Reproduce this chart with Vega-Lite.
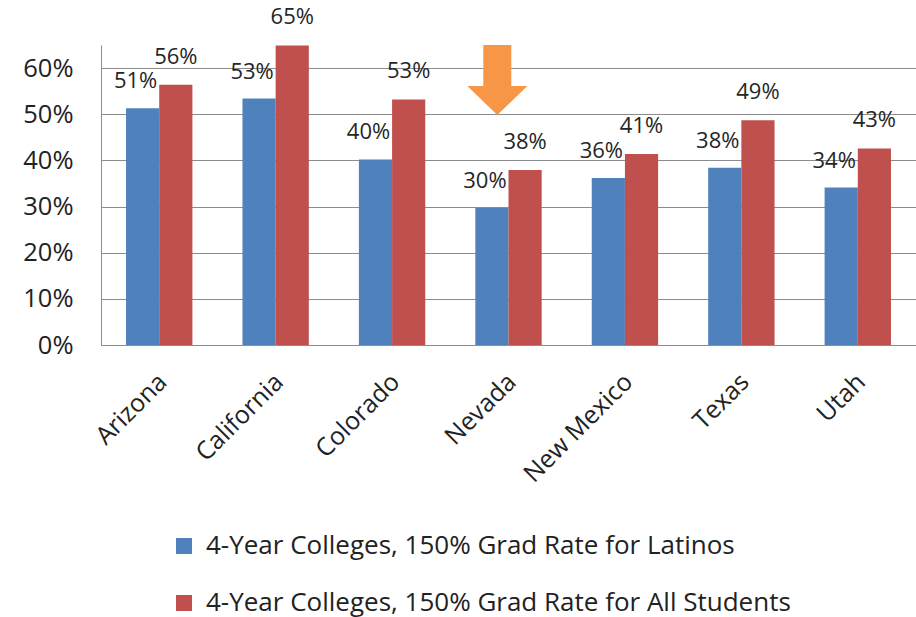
{
  "$schema": "https://vega.github.io/schema/vega-lite/v6.json",
  "width": 815,
  "height": 300,
  "autosize": {"type": "none"},
  "padding": {"left": 101, "top": 45, "right": 0, "bottom": 272},
  "background": "white",
  "config": {"view": {"stroke": null}, "font": "Open Sans"},
  "datasets": {
    "rates": [
      {"state": "Arizona", "series": "4-Year Colleges, 150% Grad Rate for Latinos", "value": 0.513},
      {"state": "Arizona", "series": "4-Year Colleges, 150% Grad Rate for All Students", "value": 0.564},
      {"state": "California", "series": "4-Year Colleges, 150% Grad Rate for Latinos", "value": 0.534},
      {"state": "California", "series": "4-Year Colleges, 150% Grad Rate for All Students", "value": 0.649},
      {"state": "Colorado", "series": "4-Year Colleges, 150% Grad Rate for Latinos", "value": 0.402},
      {"state": "Colorado", "series": "4-Year Colleges, 150% Grad Rate for All Students", "value": 0.532},
      {"state": "Nevada", "series": "4-Year Colleges, 150% Grad Rate for Latinos", "value": 0.297},
      {"state": "Nevada", "series": "4-Year Colleges, 150% Grad Rate for All Students", "value": 0.379},
      {"state": "New Mexico", "series": "4-Year Colleges, 150% Grad Rate for Latinos", "value": 0.362},
      {"state": "New Mexico", "series": "4-Year Colleges, 150% Grad Rate for All Students", "value": 0.414},
      {"state": "Texas", "series": "4-Year Colleges, 150% Grad Rate for Latinos", "value": 0.384},
      {"state": "Texas", "series": "4-Year Colleges, 150% Grad Rate for All Students", "value": 0.487},
      {"state": "Utah", "series": "4-Year Colleges, 150% Grad Rate for Latinos", "value": 0.341},
      {"state": "Utah", "series": "4-Year Colleges, 150% Grad Rate for All Students", "value": 0.426}
    ]
  },
  "layer": [
    {
      "data": {"name": "rates"},
      "mark": {"type": "bar"},
      "encoding": {
        "x": {
          "field": "state", "type": "nominal", "sort": null,
          "scale": {"paddingInner": 0.43, "paddingOuter": 0.215},
          "axis": {
            "title": null, "labelAngle": -45, "labelFontSize": 25, "labelColor": "#222222",
            "ticks": false, "domainColor": "#8c8c8c", "labelPadding": 24, "labelLimit": 300,
            "labelOffset": -5
          }
        },
        "xOffset": {
          "field": "series", "type": "nominal",
          "sort": ["4-Year Colleges, 150% Grad Rate for Latinos", "4-Year Colleges, 150% Grad Rate for All Students"]
        },
        "y": {
          "field": "value", "type": "quantitative",
          "scale": {"domain": [0, 0.65], "nice": false},
          "axis": {
            "title": null, "format": ".0%", "values": [0, 0.1, 0.2, 0.3, 0.4, 0.5, 0.6],
            "labelFontSize": 25.5, "labelColor": "#222222", "ticks": false,
            "domainColor": "#8c8c8c", "gridColor": "#8c8c8c", "gridOpacity": 1, "labelPadding": 28
          }
        },
        "color": {
          "field": "series", "type": "nominal",
          "sort": ["4-Year Colleges, 150% Grad Rate for Latinos", "4-Year Colleges, 150% Grad Rate for All Students"],
          "scale": {"range": ["#4F81BD", "#C0504D"]},
          "legend": {
            "title": null, "orient": "none", "legendX": 70, "legendY": 488,
            "direction": "vertical", "symbolType": "square", "symbolSize": 256,
            "symbolStrokeWidth": 0, "labelFontSize": 26, "labelColor": "#222222",
            "labelLimit": 800, "rowPadding": 31, "labelOffset": 9
          }
        }
      }
    },
    {
      "data": {"name": "rates"},
      "transform": [{"filter": "datum.series == '4-Year Colleges, 150% Grad Rate for Latinos'"}],
      "mark": {"type": "text", "dy": -27, "dx": -7, "baseline": "middle", "fontSize": 22, "color": "#262626"},
      "encoding": {
        "x": {"field": "state", "type": "nominal", "sort": null},
        "xOffset": {
          "field": "series", "type": "nominal",
          "sort": ["4-Year Colleges, 150% Grad Rate for Latinos", "4-Year Colleges, 150% Grad Rate for All Students"]
        },
        "y": {"field": "value", "type": "quantitative"},
        "text": {"field": "value", "type": "quantitative", "format": ".0%"}
      }
    },
    {
      "data": {"name": "rates"},
      "transform": [{"filter": "datum.series == '4-Year Colleges, 150% Grad Rate for All Students'"}],
      "mark": {"type": "text", "dy": -28, "baseline": "middle", "fontSize": 22, "color": "#262626"},
      "encoding": {
        "x": {"field": "state", "type": "nominal", "sort": null},
        "xOffset": {
          "field": "series", "type": "nominal",
          "sort": ["4-Year Colleges, 150% Grad Rate for Latinos", "4-Year Colleges, 150% Grad Rate for All Students"]
        },
        "y": {"field": "value", "type": "quantitative"},
        "text": {"field": "value", "type": "quantitative", "format": ".0%"}
      }
    },
    {
      "data": {"values": [{"state": "Nevada", "level": 0.574}]},
      "mark": {
        "type": "point", "filled": true, "color": "#F79646", "opacity": 1, "strokeWidth": 0, "size": 4900,
        "shape": "M-0.4,-1 L0.4,-1 L0.4,0.17 L0.857,0.17 L0,1 L-0.857,0.17 L-0.4,0.17 Z"
      },
      "encoding": {
        "x": {"field": "state", "type": "nominal", "sort": null},
        "xOffset": {"value": 22},
        "y": {"field": "level", "type": "quantitative"}
      }
    }
  ]
}
